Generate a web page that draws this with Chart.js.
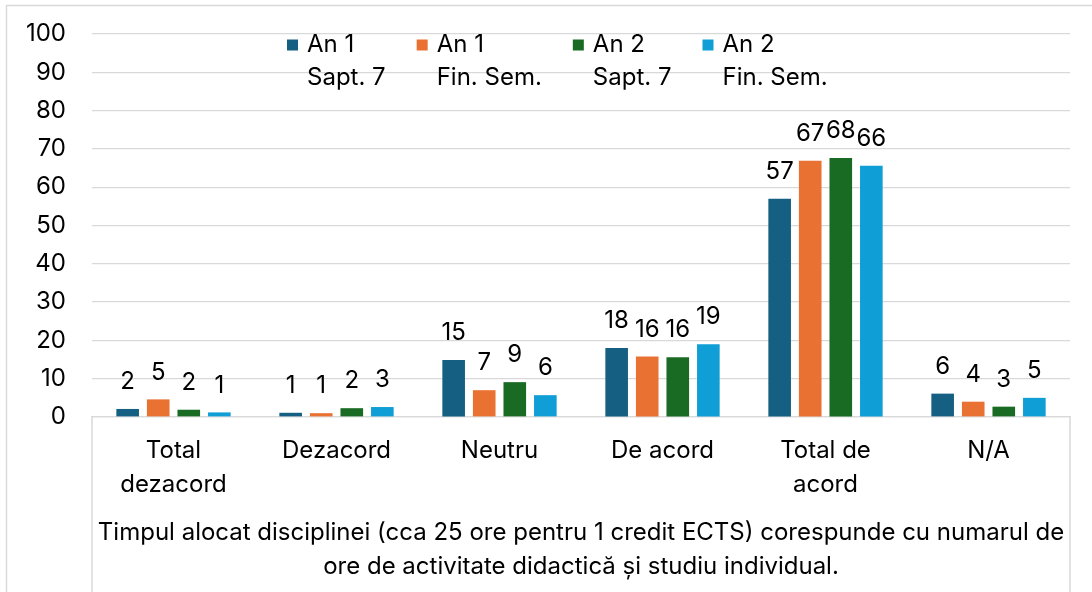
<!DOCTYPE html>
<html>
<head>
<meta charset="utf-8">
<script src="https://cdn.jsdelivr.net/npm/chart.js@4/dist/chart.umd.min.js"></script>
<style>
  html, body { margin: 0; padding: 0; background: #fff; }
  canvas { display: block; }
</style>
</head>
<body>
<canvas id="chart" width="1092" height="592"></canvas>
<script>
const categories = [['Total', 'dezacord'], 'Dezacord', 'Neutru', 'De acord', ['Total de', 'acord'], 'N/A'];
const seriesNames = [['An 1', 'Sapt. 7'], ['An 1', 'Fin. Sem.'], ['An 2', 'Sapt. 7'], ['An 2', 'Fin. Sem.']];
const an1Sapt7 = [2.1, 1.1, 14.9, 18.0, 57.0, 6.1];
const an1FinSem = [4.6, 1.0, 7.0, 15.8, 66.9, 4.0];
const an2Sapt7 = [1.9, 2.3, 9.1, 15.6, 67.6, 2.7];
const an2FinSem = [1.2, 2.6, 5.7, 19.0, 65.6, 5.0];
const axisTitle = ['Timpul alocat disciplinei (cca 25 ore pentru 1 credit ECTS) corespunde cu numarul de',
                   'ore de activitate didactică și studiu individual.'];

const colors = ['#156082', '#E97132', '#196B24', '#0F9ED5'];
const FONT = 'Inter, "Liberation Sans", sans-serif';
const SIZE = 24;
const gridColor = '#d9d9d9';

// outer frame + the box lines below the category axis
const framePlugin = {
  id: 'frame',
  beforeDraw(chart) {
    const ctx = chart.ctx;
    const a = chart.chartArea;
    ctx.save();
    ctx.strokeStyle = gridColor;
    ctx.lineWidth = 1.5;
    ctx.beginPath();
    ctx.moveTo(6.5, chart.height);
    ctx.lineTo(6.5, 5.5);
    ctx.lineTo(chart.width, 5.5);
    ctx.moveTo(a.left, a.bottom);
    ctx.lineTo(a.left, chart.height);
    ctx.moveTo(a.right, a.bottom);
    ctx.lineTo(a.right, chart.height);
    ctx.stroke();
    ctx.restore();
  }
};

// values above the bars
const valueLabels = {
  id: 'valueLabels',
  afterDatasetsDraw(chart) {
    const ctx = chart.ctx;
    ctx.save();
    ctx.font = SIZE + 'px ' + FONT;
    ctx.fillStyle = '#000';
    ctx.textAlign = 'center';
    ctx.textBaseline = 'middle';
    chart.data.datasets.forEach((ds, i) => {
      chart.getDatasetMeta(i).data.forEach((bar, j) => {
        ctx.fillText(Math.round(ds.data[j]), bar.x, bar.y - 27);
      });
    });
    ctx.restore();
  }
};

// two-line legend inside the plot
const legendPlugin = {
  id: 'twoLineLegend',
  afterDraw(chart) {
    const ctx = chart.ctx;
    const a = chart.chartArea;
    ctx.save();
    ctx.font = SIZE + 'px ' + FONT;
    ctx.textBaseline = 'middle';
    ctx.textAlign = 'left';
    let x = a.left + 195;
    const row1 = a.top + 11, row2 = a.top + 44;
    chart.data.datasets.forEach(ds => {
      ctx.fillStyle = ds.backgroundColor;
      ctx.fillRect(x, row1 - 5.5, 11, 11);
      ctx.fillStyle = '#000';
      ctx.fillText(ds.label[0], x + 20, row1);
      ctx.fillText(ds.label[1], x + 20, row2);
      const w = Math.max(ctx.measureText(ds.label[0]).width, ctx.measureText(ds.label[1]).width);
      x += 20 + w + 31;
    });
    ctx.restore();
  }
};

const allSeries = [an1Sapt7, an1FinSem, an2Sapt7, an2FinSem];

new Chart(document.getElementById('chart'), {
  type: 'bar',
  data: {
    labels: categories,
    datasets: allSeries.map((values, i) => ({
      label: seriesNames[i],
      data: values,
      backgroundColor: colors[i],
      borderWidth: 0,
      categoryPercentage: 0.75,
      barPercentage: 0.74
    }))
  },
  options: {
    responsive: false,
    devicePixelRatio: 1,
    animation: false,
    layout: { padding: { top: 34, right: 22, left: 0, bottom: 0 } },
    plugins: {
      legend: { display: false },
      tooltip: { enabled: false }
    },
    scales: {
      y: {
        min: 0,
        max: 100,
        ticks: { stepSize: 10, padding: 26, color: '#000', font: { family: FONT, size: SIZE } },
        grid: { color: gridColor, lineWidth: 1.25, drawTicks: false },
        border: { display: false },
        afterFit(scale) {
          scale.width = 92;
          scale.paddingTop = 0;
        }
      },
      x: {
        ticks: { padding: 17, color: '#000', maxRotation: 0, autoSkip: false,
                 font: { family: FONT, size: SIZE, lineHeight: 34 / SIZE } },
        grid: { display: false, drawTicks: false },
        border: { display: true, color: gridColor, width: 1.25 },
        title: {
          display: true,
          text: axisTitle,
          color: '#000',
          padding: { top: 0, bottom: 8 },
          font: { family: FONT, size: SIZE, lineHeight: 34 / SIZE }
        },
        afterFit(scale) { scale.height = 175; }
      }
    }
  },
  plugins: [framePlugin, valueLabels, legendPlugin]
});
</script>
</body>
</html>
